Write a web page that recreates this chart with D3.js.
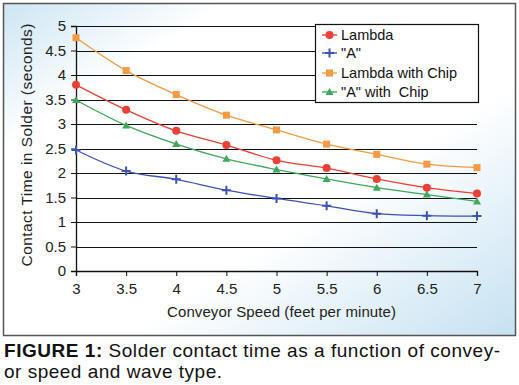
<!DOCTYPE html>
<html>
<head>
<meta charset="utf-8">
<script src="https://cdn.jsdelivr.net/npm/d3@7"></script>
<style>
  body { margin: 0; background: #fff; }
  svg { display: block; font-family: "Liberation Sans", Arial, sans-serif; }
</style>
</head>
<body>
<svg id="chart" width="519" height="385"></svg>
<script>
// data
const speeds = [3, 3.5, 4, 4.5, 5, 5.5, 6, 6.5, 7]
const lambda = [3.80, 3.29, 2.86, 2.57, 2.26, 2.10, 1.88, 1.70, 1.58]
const typeA = [2.47, 2.04, 1.87, 1.65, 1.48, 1.33, 1.17, 1.13, 1.12]
const lambdaChip = [4.76, 4.09, 3.60, 3.18, 2.88, 2.59, 2.38, 2.18, 2.11]
const typeAChip = [3.49, 2.97, 2.59, 2.29, 2.07, 1.88, 1.70, 1.56, 1.42]
const seriesNames = ['Lambda', '"A"', 'Lambda with Chip', '"A" with  Chip']
const yTicks = [0, 0.5, 1, 1.5, 2, 2.5, 3, 3.5, 4, 4.5, 5]

const SERIES = [
  { name: seriesNames[0], values: lambda, color: '#ec3f36', marker: 'circle' },
  { name: seriesNames[1], values: typeA, color: '#3d52b5', marker: 'plus' },
  { name: seriesNames[2], values: lambdaChip, color: '#f49a42', marker: 'square' },
  { name: seriesNames[3], values: typeAChip, color: '#3fa85a', marker: 'triangle' }
]

// ===================================================================

const svg = d3.select('#chart')

const defs = svg.append('defs')
const grad = defs.append('linearGradient')
  .attr('id', 'bg')
  .attr('x1', 0).attr('y1', 0).attr('x2', 1).attr('y2', 1)
grad.append('stop').attr('offset', 0).attr('stop-color', '#cde5f3')
grad.append('stop').attr('offset', 0.22).attr('stop-color', '#ffffff')
grad.append('stop').attr('offset', 0.62).attr('stop-color', '#ffffff')
grad.append('stop').attr('offset', 1).attr('stop-color', '#c6e1f2')

svg.append('rect')
  .attr('x', 3.5).attr('y', 3.5)
  .attr('width', 512).attr('height', 332)
  .attr('fill', 'url(#bg)')
  .attr('stroke', '#555')
  .attr('stroke-width', 1.5)

const x = d3.scaleLinear().domain([3, 7]).range([76, 477])
const y = d3.scaleLinear().domain([0, 5]).range([271, 26])

// grid
svg.append('g')
  .selectAll('line')
  .data(yTicks.filter(d => d > 0))
  .join('line')
    .attr('x1', x(3)).attr('x2', x(7))
    .attr('y1', d => Math.round(y(d)) + 0.5)
    .attr('y2', d => Math.round(y(d)) + 0.5)
    .attr('stroke', '#111')
    .attr('stroke-width', 1.2)

// axes
const yAxis = svg.append('g')
  .attr('transform', `translate(${x(3)},0)`)
  .call(d3.axisLeft(y).tickValues(yTicks).tickFormat(d => d).tickSize(5).tickPadding(5))
const xAxis = svg.append('g')
  .attr('transform', `translate(0,${y(0)})`)
  .call(d3.axisBottom(x).tickValues(speeds).tickFormat(d => d).tickSize(5).tickPadding(7))

for (const ax of [yAxis, xAxis]) {
  ax.selectAll('.domain').attr('stroke', '#111').attr('stroke-width', 1.3)
  ax.selectAll('.tick line').attr('stroke', '#111')
  ax.selectAll('.tick text')
    .attr('font-size', 15)
    .attr('font-family', '"Liberation Sans", Arial, sans-serif')
    .attr('fill', '#222')
}

// axis titles
svg.append('text')
  .attr('x', 281.5).attr('y', 317)
  .attr('text-anchor', 'middle')
  .attr('font-size', 15)
  .attr('textLength', 229)
  .attr('fill', '#222')
  .text('Conveyor Speed (feet per minute)')

svg.append('text')
  .attr('transform', 'translate(32,145) rotate(-90)')
  .attr('text-anchor', 'middle')
  .attr('font-size', 15.5)
  .attr('textLength', 243)
  .attr('fill', '#222')
  .text('Contact Time in Solder (seconds)')

// markers
const drawMarker = (g, type, color) => {
  if (type === 'circle') {
    g.append('circle').attr('r', 4).attr('fill', color)
  } else if (type === 'square') {
    g.append('rect').attr('x', -3.5).attr('y', -3.5).attr('width', 7).attr('height', 7)
      .attr('fill', color)
  } else if (type === 'triangle') {
    g.append('path').attr('d', 'M0,-4L4,3L-4,3Z').attr('fill', color)
  } else {
    g.append('path').attr('d', 'M-4.5,0H4.5M0,-4.5V4.5')
      .attr('stroke', color).attr('stroke-width', 2)
  }
}

const line = d3.line()
  .x((d, i) => x(speeds[i]))
  .y(d => y(d))
  .curve(d3.curveCatmullRom.alpha(0.5))

SERIES.forEach(s => {
  svg.append('path')
    .datum(s.values)
    .attr('d', line)
    .attr('fill', 'none')
    .attr('stroke', s.color)
    .attr('stroke-width', 1.3)
  s.values.forEach((v, i) => {
    const g = svg.append('g').attr('transform', `translate(${x(speeds[i])},${y(v)})`)
    drawMarker(g, s.marker, s.color)
  })
})

// legend
const legend = svg.append('g')
legend.append('rect')
  .attr('x', 315.5).attr('y', 24.5)
  .attr('width', 163).attr('height', 78)
  .attr('fill', '#fff')
  .attr('stroke', '#111')
  .attr('stroke-width', 1.2)

const legendY = [35, 53, 73, 92]
SERIES.forEach((s, i) => {
  const ly = legendY[i]
  legend.append('line')
    .attr('x1', 322).attr('x2', 337)
    .attr('y1', ly).attr('y2', ly)
    .attr('stroke', s.color).attr('stroke-width', 1.4)
  drawMarker(legend.append('g').attr('transform', `translate(329.5,${ly})`), s.marker, s.color)
  legend.append('text')
    .attr('x', 341).attr('y', ly + 5)
    .attr('font-size', 14.5)
    .attr('fill', '#111')
    .style('white-space', 'pre')
    .text(s.name)
})

// caption
const cap = svg.append('text')
  .attr('x', 4).attr('y', 357)
  .attr('font-size', 19)
  .attr('textLength', 496)
  .attr('fill', '#111')
cap.append('tspan').attr('font-weight', 'bold').text('FIGURE 1:')
cap.append('tspan').text(' Solder contact time as a function of convey-')

svg.append('text')
  .attr('x', 4).attr('y', 378)
  .attr('font-size', 19)
  .attr('textLength', 218)
  .attr('fill', '#111')
  .text('or speed and wave type.')
</script>
</body>
</html>
